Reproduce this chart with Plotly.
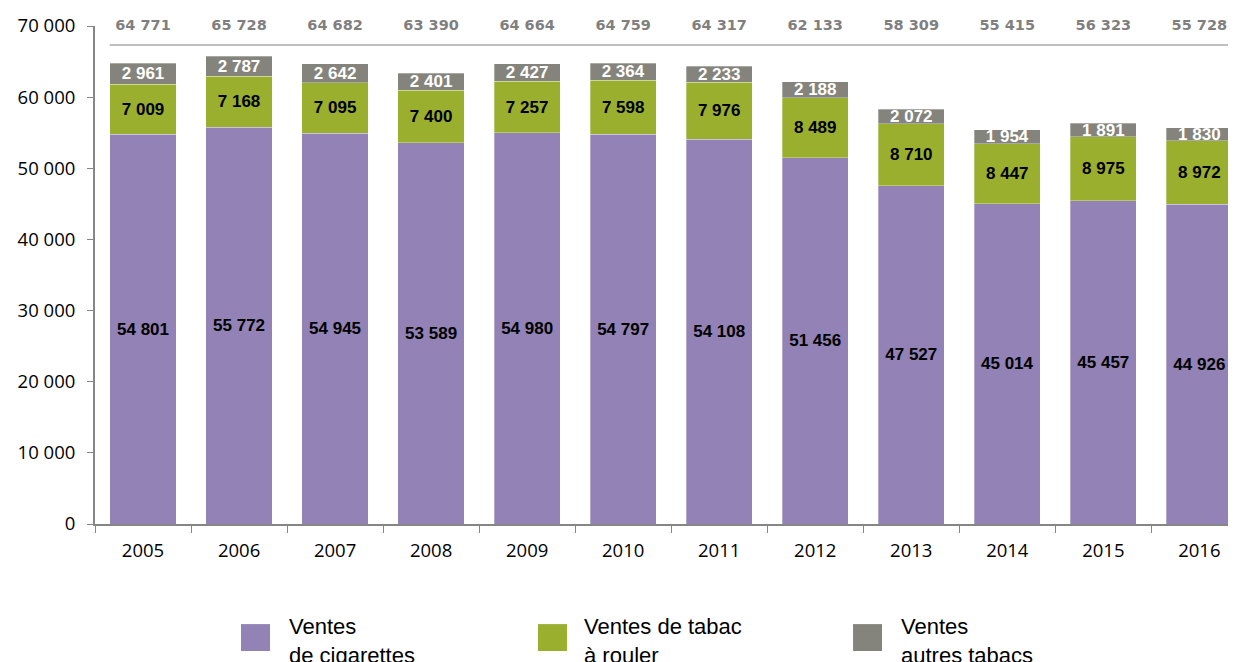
import plotly.graph_objects as go

years = ["2005", "2006", "2007", "2008", "2009", "2010", "2011", "2012", "2013", "2014", "2015", "2016"]
cigarettes = [54801, 55772, 54945, 53589, 54980, 54797, 54108, 51456, 47527, 45014, 45457, 44926]
tabac_rouler = [7009, 7168, 7095, 7400, 7257, 7598, 7976, 8489, 8710, 8447, 8975, 8972]
autres_tabacs = [2961, 2787, 2642, 2401, 2427, 2364, 2233, 2188, 2072, 1954, 1891, 1830]
totals = [64771, 65728, 64682, 63390, 64664, 64759, 64317, 62133, 58309, 55415, 56323, 55728]
total_row_level = 70000

legend_names = ["Ventes<br>de cigarettes", "Ventes de tabac<br>à rouler", "Ventes<br>autres tabacs"]
colors = ["#9282B5", "#9BAF2F", "#85847C"]
label_colors = ["#000000", "#000000", "#FFFFFF"]

fig = go.Figure()
for vals, col, lc, nm in zip([cigarettes, tabac_rouler, autres_tabacs], colors, label_colors, legend_names):
    fig.add_trace(go.Bar(
        x=years, y=vals, name=nm, marker=dict(color=col, line=dict(width=0.6, color="rgba(255,255,255,0.5)")),
        texttemplate="%{y:,}", textposition="inside", insidetextanchor="middle", textangle=0,
        textfont=dict(family="Liberation Sans, Arial", size=17, color=lc, weight="bold"),
        showlegend=False, hoverinfo="x+y"))

# totals row above bars
fig.add_trace(go.Scatter(
    x=years, y=[total_row_level] * len(years), mode="text",
    text=[f"{t:,}".replace(",", " ") for t in totals], textposition="middle center",
    textfont=dict(family="DejaVu Sans, Verdana", size=14.5, color="#7F7F7F", weight="bold"),
    cliponaxis=False, showlegend=False, hoverinfo="skip"))

# line under totals
fig.add_shape(type="line", xref="paper", yref="paper", x0=0.013, x1=1.0, y0=0.962, y1=0.962,
              line=dict(color="#BFBFBF", width=2))

# manual legend
leg_sq_x = [0.1284, 0.3896, 0.6667]
leg_tx_x = [0.1689, 0.4283, 0.7071]
for sx, tx, col, nm in zip(leg_sq_x, leg_tx_x, colors, legend_names):
    fig.add_shape(type="rect", xref="paper", yref="paper", x0=sx, x1=sx + 0.0255, y0=-0.255, y1=-0.201,
                  fillcolor=col, line=dict(width=0))
    fig.add_annotation(x=tx, y=-0.176, xref="paper", yref="paper", text=nm, showarrow=False,
                       xanchor="left", yanchor="top", align="left",
                       font=dict(family="Liberation Sans Narrow, Arial Narrow, Liberation Sans", size=22, color="#000000"))

fig.update_layout(
    barmode="stack", bargap=0.31,
    width=1228, height=654,
    margin=dict(l=87, r=4, t=14, b=138),
    plot_bgcolor="white", paper_bgcolor="white",
    separators=", ",
    uniformtext=dict(minsize=17, mode="show"),
    font=dict(family="Open Sans, Liberation Sans", size=18, color="#000000"),
)
fig.update_yaxes(range=[0, 70000], dtick=10000, tickformat=",d", showgrid=False, zeroline=False,
                 showline=True, linecolor="#868686", linewidth=2, ticks="outside", ticklen=6,
                 tickcolor="#868686", tickfont=dict(size=18.5), ticklabelstandoff=8)
fig.update_xaxes(type="category", range=[-0.5, 11.34], showgrid=False, showline=True, linecolor="#868686",
                 linewidth=2, ticks="outside", tickson="boundaries", ticklen=7, tickcolor="#868686",
                 tickfont=dict(size=18.5), ticklabelstandoff=9)

fig.write_html("out.html")
